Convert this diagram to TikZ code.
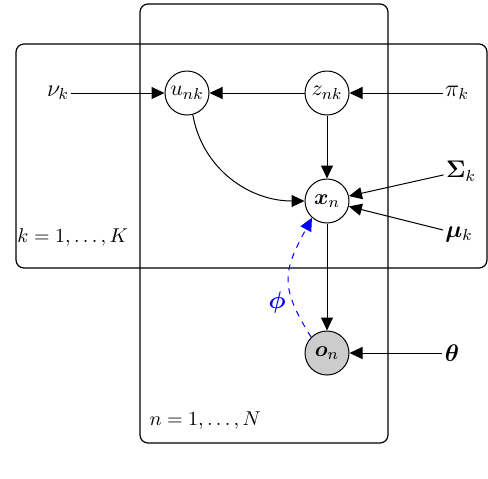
\documentclass[tikz,border=0pt]{standalone}
\usepackage{amsmath}
\usepackage{bm}
\usetikzlibrary{arrows.meta}
\begin{document}
\begin{tikzpicture}[x=0.5pt,y=-0.5pt,
  every path/.style={line width=0.5pt},
  latentnode/.style={circle,draw,line width=0.5pt,minimum size=22pt,inner sep=0pt,font=\fontsize{11}{13}\selectfont},
  obsnode/.style={latentnode,fill=gray!40},
  param/.style={inner sep=1pt,font=\large},
  plate/.style={draw,rounded corners=4pt,line width=0.6pt},
  edge/.style={-{Triangle[length=6.5pt,width=6pt]}},
  platelabel/.style={anchor=west,inner sep=0pt}]
\useasboundingbox (0,0) rectangle (488,478);
% plates
\draw[plate] (16,44) rectangle (487,268);
\draw[plate] (140,4) rectangle (388,443);
\node[platelabel] (klab) at (17,237) {$k=1,\ldots,K$};
\node[platelabel] (nlab) at (149,421) {$n=1,\ldots,N$};
% nodes
\node[latentnode] (u) at (187,93) {$u_{nk}$};
\node[latentnode] (z) at (327,93) {$z_{nk}$};
\node[latentnode] (x) at (327,201) {$\bm{x}_n$};
\node[obsnode] (o) at (327,353) {$\bm{o}_n$};
\node[param] (nu) at (58,93) {$\nu_k$};
\node[param] (pi) at (457,93) {$\pi_k$};
\node[param] (Sigma) at (461,171) {$\bm{\Sigma}_k$};
\node[param] (mu) at (459,234) {$\bm{\mu}_k$};
\node[param] (theta) at (452,353) {$\bm{\theta}$};
% edges
\draw[edge] (nu) -- (u);
\draw[edge] (z) -- (u);
\draw[edge] (pi) -- (z);
\draw[edge] (z) -- (x);
\draw[edge] (u.-75) to[out=-80,in=180] (x.west);
\draw[edge] (Sigma) -- (x);
\draw[edge] (mu) -- (x);
\draw[edge] (x) -- (o);
\draw[edge] (theta) -- (o);
\draw[edge,blue,dashed] (o.135) to[out=122,in=242,looseness=1.3] node[pos=0.27,left=0pt,text=blue,font=\large] (philab) {$\bm{\phi}$} (x.228);
\end{tikzpicture}
\end{document}
